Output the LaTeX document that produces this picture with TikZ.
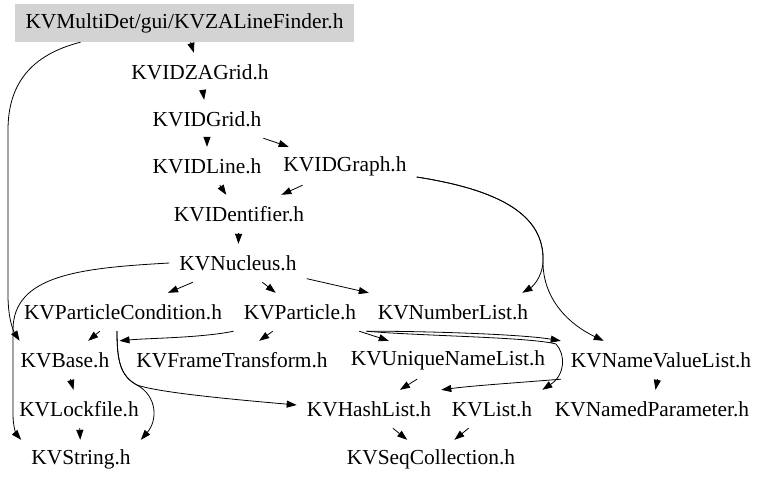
\documentclass[tikz,border=0pt]{standalone}
\usepackage{fontspec}
\setmainfont{Liberation Serif}
\usetikzlibrary{arrows.meta}
\definecolor{rootgray}{RGB}{211,211,211}

\begin{document}
\begin{tikzpicture}[
    x=1pt, y=-1pt,
    file/.style={rectangle, minimum height=38pt, inner xsep=10pt, inner ysep=0pt, font=\fontsize{21.4}{24}\selectfont},
    edge/.style={-{Triangle[length=10pt, width=7pt]}, line width=0.8pt}
]
\useasboundingbox (0,0) rectangle (768,483);

% Top: the file itself and the ID grid chain
\node[file, fill=rootgray] (lf) at (184.5,23) {KVMultiDet/gui/KVZALineFinder.h};
\node[file] (zag) at (200,72) {KVIDZAGrid.h};
\node[file] (grid) at (207,119) {KVIDGrid.h};
\node[file] (line) at (207,166) {KVIDLine.h};
\node[file] (graph) at (345,166) {KVIDGraph.h};
\node[file] (ident) at (239,214) {KVIDentifier.h};
\node[file] (nuc) at (238,263) {KVNucleus.h};

% Middle rows
\node[file] (pc) at (123,312) {KVParticleCondition.h};
\node[file] (part) at (300,312) {KVParticle.h};
\node[file] (nl) at (453,312) {KVNumberList.h};
\node[file] (base) at (65,360) {KVBase.h};
\node[file] (ft) at (232,360) {KVFrameTransform.h};
\node[file] (unl) at (448,360) {KVUniqueNameList.h};
\node[file] (nvl) at (661,360) {KVNameValueList.h};

% Bottom rows
\node[file] (lock) at (79,409) {KVLockfile.h};
\node[file] (hl) at (369,409) {KVHashList.h};
\node[file] (list) at (492,409) {KVList.h};
\node[file] (np) at (652,409) {KVNamedParameter.h};
\node[file] (str) at (81,459) {KVString.h};
\node[file] (seq) at (431,459) {KVSeqCollection.h};

% Straight includes
\draw[edge] (lf) -- (zag);
\draw[edge] (zag) -- (grid);
\draw[edge] (grid) -- (line);
\draw[edge] (grid) -- (graph);
\draw[edge] (line) -- (ident);
\draw[edge] (graph) -- (ident);
\draw[edge] (ident) -- (nuc);
\draw[edge] (nuc) -- (pc);
\draw[edge] (nuc) -- (part);
\draw[edge] (nuc) -- (nl);
\draw[edge] (pc) -- (base);
\draw[edge] (part) -- (ft);
\draw[edge] (part) -- (unl);
\draw[edge] (unl) -- (hl);
\draw[edge] (nvl) -- (np);
\draw[edge] (base) -- (lock);
\draw[edge] (lock) -- (str);
\draw[edge] (hl) -- (seq);
\draw[edge] (list) -- (seq);

% Curved includes
\draw[edge] ([xshift=-104pt]lf.south) .. controls (30,55) and (8,85) .. (8,130) -- (8,295)
    .. controls (8,320) and (14,332) .. ([xshift=9pt]base.north west);
\draw[edge] (nuc.west) .. controls (80,268) and (13,275) .. (13,330) -- (13,415)
    .. controls (13,428) and (17,435) .. (str.north west);
\draw[edge] ([xshift=-6pt]pc.south) .. controls (117,360) and (120,376) .. (137,385)
    .. controls (160,393) and (240,400) .. ([yshift=4pt]hl.west);
\draw[edge] ([xshift=-6pt]pc.south) .. controls (117,360) and (120,376) .. (137,385)
    .. controls (157,396) and (158,420) .. (str.north east);
\draw[edge] (part.south west) .. controls (200,338) and (150,338) .. (base.north east);
\draw[edge] (part.south east) .. controls (420,331) and (520,334) .. (nvl.north west);
\draw[edge] (part.south east) .. controls (420,336) and (530,337) .. (556,344)
    .. controls (566,355) and (565,375) .. (list.north east);
\draw[edge] (nvl.south west) .. controls (500,384) and (470,386) .. (hl.north east);
\draw[edge] ([yshift=-11pt]graph.east) .. controls (500,190) and (545,215) .. (543,262)
    .. controls (542,278) and (532,287) .. ([xshift=-16pt]nl.north east);
\draw[edge] ([yshift=-11pt]graph.east) .. controls (500,190) and (545,215) .. (543,262)
    .. controls (543,300) and (570,325) .. ([xshift=43pt]nvl.north west);

\end{tikzpicture}
\end{document}
